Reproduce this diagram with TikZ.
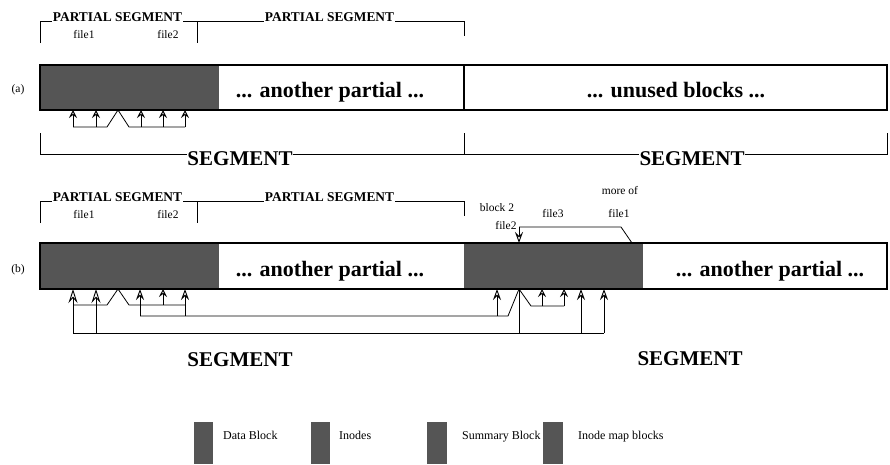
\documentclass[tikz,border=0pt]{standalone}
\usepackage{fontspec}
\setmainfont{Liberation Serif}
\usetikzlibrary{arrows.meta}
\definecolor{blk}{RGB}{85,85,85}
\begin{document}
\begin{tikzpicture}[x=1pt,y=-1pt,
  ln/.style={line width=0.8pt,line join=miter},
  bar/.style={line width=1.5pt},
  arrS/.style={ln,-{Stealth[open,length=8pt,width=8pt,inset=3pt,line width=0.9pt]}},
  arrM/.style={ln,-{Stealth[open,length=11pt,width=8pt,inset=4pt,line width=0.9pt]}},
  arrL/.style={ln,-{Stealth[open,length=14pt,width=9pt,inset=5pt,line width=0.9pt]}},
  ps/.style={anchor=base,fill=white,inner sep=1pt,font=\fontsize{13.4}{15}\selectfont\bfseries},
  lab/.style={anchor=base,inner sep=0pt,font=\fontsize{11.5}{13}\selectfont},
  big/.style={anchor=base,inner sep=0pt,font=\fontsize{22}{24}\selectfont\bfseries},
  seg/.style={anchor=base,fill=white,inner sep=0.5pt,font=\fontsize{21}{23}\selectfont\bfseries},
  leg/.style={anchor=base west,inner sep=0pt,font=\fontsize{12}{14}\selectfont}]
\useasboundingbox (0,0) rectangle (890,464);

% ================= (a) =================
\node[lab,anchor=center] (la) at (18,90) {(a)};
\draw[ln] (40,43) -- (40,21) -- (197,21) -- (197,43);
\draw[ln] (197,21) -- (464,21) -- (464,36);
\node[ps] (psa1) at (117.5,21) {PARTIAL SEGMENT};
\node[ps] (psa2) at (329.5,21) {PARTIAL SEGMENT};
\node[lab] (fa1) at (84,38) {file1};
\node[lab] (fa2) at (168,38) {file2};

\fill[blk] (40,65) rectangle (219,110);
\draw[bar] (40,65) rectangle (887,110);
\draw[line width=2.3pt] (464,65) -- (464,110);
\draw[line width=2.3pt] (887,65) -- (887,110);
\node[big] (apa) at (330,97.5) {... another partial ...};
\node[big] (unu) at (676,97.5) {... unused blocks ...};

\coordinate (a1) at (73,127); \coordinate (a2) at (107,127);
\coordinate (apk) at (118,110); \coordinate (a3) at (129,127);
\coordinate (a4) at (185,127);
\draw[ln] (a1) -- (a2) -- (apk) -- (a3) -- (a4);
\foreach \x in {73,96,141,163,185}{
  \coordinate (ab\x) at (\x,127); \coordinate (at\x) at (\x,110);
  \draw[arrS] (ab\x) -- (at\x);}

\draw[ln] (40,133) -- (40,154) -- (887,154) -- (887,133);
\draw[ln] (464,133) -- (464,154);
\node[seg] (sa1) at (240,165) {SEGMENT};
\node[seg] (sa2) at (692,165) {SEGMENT};

% ================= (b) =================
\node[lab,anchor=center] (lb) at (18,270) {(b)};
\draw[ln] (40,223) -- (40,201) -- (197,201) -- (197,223);
\draw[ln] (197,201) -- (464,201) -- (464,216);
\node[ps] (psb1) at (117.5,201) {PARTIAL SEGMENT};
\node[ps] (psb2) at (329.5,201) {PARTIAL SEGMENT};
\node[lab] (fb1) at (84,218) {file1};
\node[lab] (fb2) at (168,218) {file2};

\fill[blk] (40,243) rectangle (219,289);
\fill[blk] (464,243) rectangle (643,289);
\draw[bar] (40,243) rectangle (887,289);
\draw[line width=2.3pt] (887,243) -- (887,289);
\node[big] (bpa1) at (330,276.5) {... another partial ...};
\node[big] (bpa2) at (770,276.5) {... another partial ...};

% left group
\coordinate (b1) at (73,305); \coordinate (b2) at (107,305);
\coordinate (bpk) at (118,289); \coordinate (b3) at (129,305);
\coordinate (b4) at (185,305);
\draw[ln] (b1) -- (b2) -- (bpk) -- (b3) -- (b4);
\coordinate (m1) at (140,316); \coordinate (m2) at (185,316);
\coordinate (m3) at (508,316); \coordinate (cpk) at (519,289);
\draw[ln] (b4) -- (m2);
\draw[ln] (m1) -- (m3) -- (cpk);
\coordinate (l1) at (73,333); \coordinate (l2) at (604,333);
\coordinate (l3) at (519,333);
\draw[ln] (l1) -- (l2);
\draw[ln] (l3) -- (cpk);
\coordinate (c1) at (531,306); \coordinate (c2) at (564,306);
\draw[ln] (cpk) -- (c1) -- (c2);

\coordinate (t73) at (73,289); \coordinate (t96) at (96,289);
\coordinate (t140) at (140,289); \coordinate (t163) at (163,289);
\coordinate (t185) at (185,289); \coordinate (t497) at (497,289);
\coordinate (t542) at (542,289); \coordinate (t564) at (564,289);
\coordinate (t581) at (581,289); \coordinate (t604) at (604,289);
\coordinate (s96) at (96,333); \coordinate (s163) at (163,305);
\coordinate (s497) at (497,316); \coordinate (s542) at (542,306);
\coordinate (s581) at (581,333);
\draw[arrL] (l1) -- (t73);
\draw[arrL] (s96) -- (t96);
\draw[arrM] (m1) -- (t140);
\draw[arrS] (s163) -- (t163);
\draw[arrM] (m2) -- (t185);
\draw[arrM] (s497) -- (t497);
\draw[arrS] (s542) -- (t542);
\draw[arrS] (c2) -- (t564);
\draw[arrM] (s581) -- (t581);
\draw[arrM] (l2) -- (t604);

% top arrow
\coordinate (u1) at (632,243); \coordinate (u2) at (621,227);
\coordinate (u3) at (519,227); \coordinate (u4) at (519,243);
\draw[ln] (u1) -- (u2) -- (u3);
\draw[arrM] (u3) -- (u4);

\node[lab] (bl2) at (497,211) {block 2};
\node[lab] (bf2) at (506,229) {file2};
\node[lab] (bf3) at (553,217) {file3};
\node[lab] (bmo) at (620,194) {more of};
\node[lab] (bf1) at (619,217) {file1};

\node[big,font=\fontsize{21}{23}\selectfont\bfseries] (sb1) at (240,366.5) {SEGMENT};
\node[big,font=\fontsize{21}{23}\selectfont\bfseries] (sb2) at (690,365.5) {SEGMENT};

% ================= legend =================
\fill[blk] (194,422) rectangle (213,464);
\fill[blk] (311,422) rectangle (330,464);
\fill[blk] (427,422) rectangle (447,464);
\fill[blk] (543,422) rectangle (563,464);
\node[leg] (g1) at (223,439) {Data Block};
\node[leg] (g2) at (339,439) {Inodes};
\node[leg] (g3) at (462,439) {Summary Block};
\node[leg] (g4) at (578,439) {Inode map blocks};
\end{tikzpicture}
\end{document}
